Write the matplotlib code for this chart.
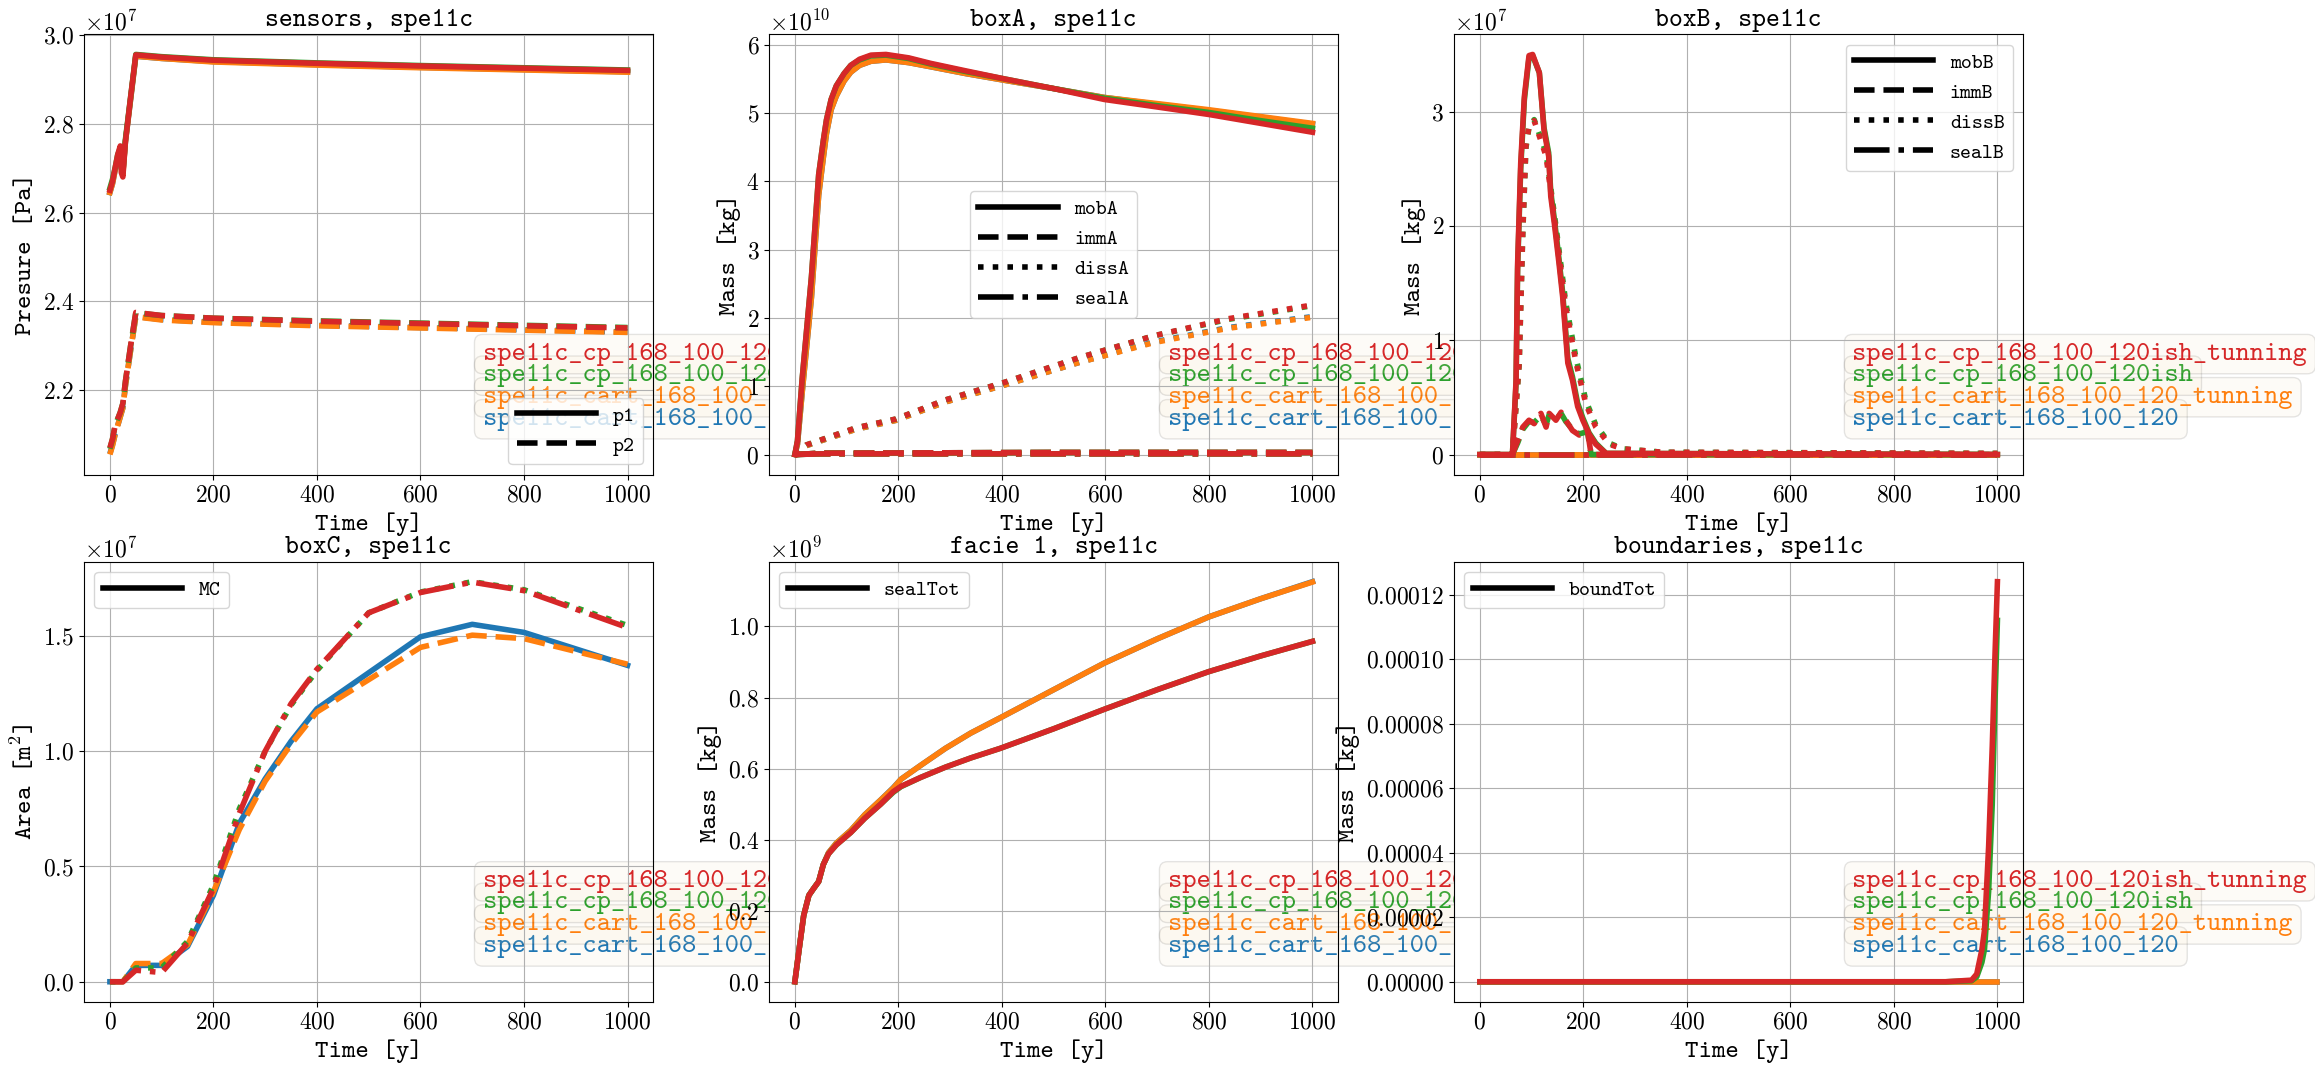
import matplotlib.pyplot as plt
from matplotlib.lines import Line2D
from matplotlib.ticker import MultipleLocator

plt.rcParams['font.family'] = 'cmr10'
plt.rcParams['mathtext.fontset'] = 'cm'
plt.rcParams['axes.formatter.use_mathtext'] = True
plt.rcParams['axes.unicode_minus'] = False

# cases and colours
cases = ['spe11c_cart_168_100_120', 'spe11c_cart_168_100_120_tunning',
         'spe11c_cp_168_100_120ish', 'spe11c_cp_168_100_120ish_tunning']
colors = ['tab:blue', 'tab:orange', 'tab:green', 'tab:red']

# sensors (x1e7 Pa)
t_p1 = [0, 5, 10, 15, 20, 22, 25, 30, 40, 50, 100, 200, 400, 600, 800, 1000]
p1_blue = [2.645, 2.665, 2.695, 2.72, 2.74, 2.71, 2.69, 2.76, 2.855, 2.952, 2.947, 2.940, 2.933, 2.927, 2.922, 2.917]
p1_orange = [2.645, 2.665, 2.695, 2.72, 2.74, 2.71, 2.685, 2.76, 2.855, 2.952, 2.947, 2.939, 2.932, 2.926, 2.921, 2.916]
p1_green = [2.655, 2.675, 2.70, 2.73, 2.745, 2.70, 2.69, 2.765, 2.86, 2.956, 2.951, 2.944, 2.937, 2.931, 2.926, 2.921]
p1_red = [2.65, 2.67, 2.70, 2.73, 2.75, 2.69, 2.68, 2.76, 2.86, 2.955, 2.950, 2.943, 2.936, 2.930, 2.925, 2.920]

t_p2 = [0, 5, 10, 20, 25, 30, 40, 50, 100, 200, 400, 600, 800, 1000]
p2_blue = [2.057, 2.077, 2.10, 2.14, 2.16, 2.21, 2.29, 2.366, 2.359, 2.353, 2.346, 2.341, 2.336, 2.331]
p2_orange = [2.055, 2.075, 2.10, 2.14, 2.16, 2.21, 2.29, 2.365, 2.358, 2.352, 2.345, 2.340, 2.335, 2.330]
p2_green = [2.068, 2.09, 2.12, 2.15, 2.17, 2.22, 2.30, 2.374, 2.368, 2.362, 2.356, 2.351, 2.346, 2.341]
p2_red = [2.07, 2.09, 2.12, 2.15, 2.17, 2.22, 2.30, 2.375, 2.368, 2.362, 2.355, 2.350, 2.345, 2.340]

# boxA (x1e10 kg)
t_mobA = [0, 5, 14, 32, 46, 55, 61, 70, 80, 95, 108, 125, 147, 176, 220, 262, 330, 406, 500, 598, 700, 800, 900, 1000]
mobA_blue = [0, 0.15, 0.9, 2.3, 3.8, 4.35, 4.7, 5.05, 5.25, 5.47, 5.6, 5.7, 5.76, 5.78, 5.74, 5.68, 5.58, 5.48, 5.36, 5.23, 5.13, 5.04, 4.94, 4.84]
mobA_orange = [0, 0.15, 0.9, 2.3, 3.8, 4.35, 4.7, 5.05, 5.25, 5.47, 5.6, 5.7, 5.76, 5.78, 5.74, 5.68, 5.58, 5.48, 5.36, 5.23, 5.14, 5.05, 4.95, 4.85]
mobA_green = [0, 0.2, 1.1, 2.6, 4.1, 4.6, 4.9, 5.2, 5.4, 5.58, 5.7, 5.78, 5.84, 5.85, 5.8, 5.72, 5.61, 5.5, 5.36, 5.22, 5.11, 5.01, 4.89, 4.78]
mobA_red = [0, 0.2, 1.1, 2.6, 4.1, 4.6, 4.9, 5.2, 5.4, 5.58, 5.7, 5.79, 5.85, 5.86, 5.81, 5.73, 5.62, 5.5, 5.36, 5.2, 5.09, 4.98, 4.85, 4.72]

t_dissA = [0, 22, 118, 195, 291, 406, 550, 694, 838, 1000]
dissA_blue = [0, 0.13, 0.37, 0.50, 0.77, 1.02, 1.35, 1.65, 1.86, 2.02]
dissA_orange = [0, 0.13, 0.37, 0.50, 0.77, 1.02, 1.35, 1.64, 1.85, 2.01]
dissA_green = [0, 0.14, 0.39, 0.52, 0.80, 1.06, 1.42, 1.74, 1.98, 2.18]
dissA_red = [0, 0.14, 0.39, 0.52, 0.80, 1.06, 1.42, 1.74, 1.99, 2.19]

t_smallA = [0, 50, 500, 1000]
immA = [0, 0.02, 0.03, 0.03]
sealA = [0, 0.01, 0.01, 0.01]

# boxB (x1e7 kg)
t_mobB = [0, 63, 70, 73, 79, 86, 95, 102, 115, 124, 133, 137, 144, 153, 160, 170, 179, 189, 199, 211, 224, 244, 1000]
mobB_red = [0, 0, 0.65, 1.67, 2.55, 3.13, 3.49, 3.50, 3.34, 2.84, 2.61, 2.26, 2.02, 1.67, 1.38, 0.80, 0.65, 0.42, 0.30, 0.18, 0.09, 0.01, 0]
mobB_green = [0, 0, 0.62, 1.62, 2.50, 3.10, 3.47, 3.49, 3.34, 2.86, 2.64, 2.30, 2.06, 1.71, 1.42, 0.84, 0.68, 0.45, 0.32, 0.19, 0.10, 0.01, 0]

t_dissB = [0, 63, 76, 83, 89, 95, 105, 128, 147, 166, 186, 205, 224, 250, 276, 353, 1000]
dissB_red = [0, 0, 0.80, 1.96, 2.70, 2.87, 2.92, 2.61, 1.96, 1.29, 0.80, 0.44, 0.24, 0.09, 0.05, 0.02, 0.01]
dissB_green = [0, 0, 0.78, 1.93, 2.68, 2.86, 2.93, 2.64, 2.00, 1.33, 0.84, 0.47, 0.26, 0.10, 0.05, 0.02, 0.01]

t_immB = [0, 63, 73, 83, 95, 105, 118, 128, 134, 147, 157, 166, 179, 192, 208, 215, 1000]
immB_red = [0, 0, 0.12, 0.24, 0.30, 0.27, 0.36, 0.24, 0.36, 0.30, 0.37, 0.30, 0.21, 0.17, 0.21, 0, 0]
immB_green = [0, 0, 0.10, 0.22, 0.29, 0.28, 0.34, 0.26, 0.35, 0.31, 0.36, 0.29, 0.22, 0.18, 0.20, 0, 0]

t_flat = [0, 1000]
flat_zero = [0, 0]

# boxC (x1e7 m2)
t_C = [0, 25, 50, 100, 150, 200, 250, 300, 350, 400, 500, 600, 700, 800, 1000]
mc_blue = [0, 0, 0.071, 0.071, 0.153, 0.375, 0.687, 0.88, 1.043, 1.184, 1.34, 1.496, 1.55, 1.515, 1.372]
mc_orange = [0, 0, 0.079, 0.079, 0.16, 0.39, 0.66, 0.87, 1.03, 1.17, 1.31, 1.45, 1.503, 1.488, 1.377]
mc_green = [0, 0, 0.06, 0.06, 0.175, 0.42, 0.75, 1.0, 1.2, 1.35, 1.6, 1.69, 1.735, 1.70, 1.545]
mc_red = [0, 0, 0.05, 0.04, 0.168, 0.405, 0.73, 1.0, 1.206, 1.355, 1.6, 1.688, 1.733, 1.696, 1.536]

# facie 1 (x1e9 kg)
t_F = [0, 8, 17, 27, 36, 46, 55, 65, 80, 108, 135, 166, 190, 205, 243, 291, 340, 397, 500, 598, 700, 800, 900, 1000]
seal_blue = [0, 0.089, 0.186, 0.243, 0.262, 0.282, 0.33, 0.363, 0.39, 0.426, 0.47, 0.512, 0.546, 0.57, 0.609, 0.657, 0.70, 0.743, 0.822, 0.897, 0.965, 1.027, 1.078, 1.126]
seal_orange = [0, 0.089, 0.186, 0.243, 0.262, 0.282, 0.33, 0.363, 0.39, 0.426, 0.47, 0.512, 0.545, 0.57, 0.609, 0.657, 0.70, 0.743, 0.822, 0.897, 0.965, 1.027, 1.078, 1.125]
seal_green = [0, 0.089, 0.186, 0.243, 0.262, 0.282, 0.33, 0.36, 0.385, 0.42, 0.46, 0.50, 0.533, 0.549, 0.575, 0.604, 0.63, 0.657, 0.712, 0.767, 0.822, 0.873, 0.917, 0.958]
seal_red = [0, 0.089, 0.186, 0.243, 0.262, 0.282, 0.33, 0.36, 0.385, 0.42, 0.46, 0.50, 0.535, 0.55, 0.575, 0.604, 0.63, 0.657, 0.712, 0.767, 0.822, 0.873, 0.917, 0.958]

# boundaries (kg)
t_bound = [0, 900, 950, 960, 970, 975, 983, 990, 995, 1000]
bound_red = [0, 0, 5e-7, 2.4e-6, 1e-5, 1.6e-5, 4.2e-5, 7.3e-5, 1.0e-4, 1.24e-4]
bound_green = [0, 0, 3e-7, 1.5e-6, 6e-6, 1.0e-5, 2.8e-5, 5.5e-5, 8.5e-5, 1.12e-4]
bound_zero = [0, 0, 0, 0, 0, 0, 0, 0, 0, 0]

p1_all = [p1_blue, p1_orange, p1_green, p1_red]
p2_all = [p2_blue, p2_orange, p2_green, p2_red]
mobA_all = [mobA_blue, mobA_orange, mobA_green, mobA_red]
dissA_all = [dissA_blue, dissA_orange, dissA_green, dissA_red]
mc_all = [mc_blue, mc_orange, mc_green, mc_red]
mc_styles = ['-', '--', ':', '-.']
seal_all = [seal_blue, seal_orange, seal_green, seal_red]
bound_all = [bound_zero, bound_zero, bound_green, bound_red]

LW = 4
TT = 'cmtt10'

fig, axs = plt.subplots(2, 3, figsize=(23.15, 10.76), dpi=100)
fig.subplots_adjust(left=0.0363, right=0.874, top=0.968, bottom=0.069, wspace=0.203, hspace=0.198)


def style_axes(ax, title, ylabel):
    ax.set_title(title, family=TT, fontsize=19)
    ax.set_xlabel('Time [y]', family=TT, fontsize=18.5)
    ax.set_ylabel(ylabel, family=TT, fontsize=18.5)
    ax.tick_params(labelsize=17)
    ax.yaxis.get_offset_text().set_fontsize(17)
    ax.grid(True)
    ax.set_xticks([0, 200, 400, 600, 800, 1000])
    # case names, stacked boxes
    ys = [0.113, 0.163, 0.212, 0.261]
    for name, c, y in zip(cases, colors, ys):
        ax.text(0.70, y, name, transform=ax.transAxes, color=c, family=TT, fontsize=19.5,
                va='baseline', ha='left', zorder=1, clip_on=False,
                bbox=dict(boxstyle='round', facecolor='wheat', alpha=0.1))


def style_legend(ax, labels, styles, loc):
    handles = [Line2D([], [], color='k', lw=LW, ls=s) for s in styles]
    ax.legend(handles, labels, loc=loc, prop={'family': TT, 'size': 15}, handlelength=3.8)


# sensors
ax = axs[0, 0]
for i in range(4):
    ax.plot(t_p1, [v * 1e7 for v in p1_all[i]], color=colors[i], lw=LW, ls='-')
    ax.plot(t_p2, [v * 1e7 for v in p2_all[i]], color=colors[i], lw=LW, ls='--')
style_axes(ax, 'sensors, spe11c', 'Presure [Pa]')
style_legend(ax, ['p1', 'p2'], ['-', '--'], 'lower right')

# boxA
ax = axs[0, 1]
for i in range(4):
    ax.plot(t_mobA, [v * 1e10 for v in mobA_all[i]], color=colors[i], lw=LW, ls='-')
    ax.plot(t_smallA, [v * 1e10 for v in immA], color=colors[i], lw=LW, ls='--')
    ax.plot(t_dissA, [v * 1e10 for v in dissA_all[i]], color=colors[i], lw=LW, ls=':')
    ax.plot(t_smallA, [v * 1e10 for v in sealA], color=colors[i], lw=LW, ls='-.')
style_axes(ax, 'boxA, spe11c', 'Mass [kg]')
style_legend(ax, ['mobA', 'immA', 'dissA', 'sealA'], ['-', '--', ':', '-.'], 'center')

# boxB
ax = axs[0, 2]
for i in range(2):
    for ls in ['-', '--', ':', '-.']:
        ax.plot(t_flat, flat_zero, color=colors[i], lw=LW, ls=ls)
for c, mob, imm, diss in [(colors[2], mobB_green, immB_green, dissB_green),
                          (colors[3], mobB_red, immB_red, dissB_red)]:
    ax.plot(t_mobB, [v * 1e7 for v in mob], color=c, lw=LW, ls='-')
    ax.plot(t_immB, [v * 1e7 for v in imm], color=c, lw=LW, ls='--')
    ax.plot(t_dissB, [v * 1e7 for v in diss], color=c, lw=LW, ls=':')
    ax.plot(t_flat, flat_zero, color=c, lw=LW, ls='-.')
style_axes(ax, 'boxB, spe11c', 'Mass [kg]')
ax.yaxis.set_major_locator(MultipleLocator(1e7))
style_legend(ax, ['mobB', 'immB', 'dissB', 'sealB'], ['-', '--', ':', '-.'], 'upper right')

# boxC
ax = axs[1, 0]
for i in range(4):
    ax.plot(t_C, [v * 1e7 for v in mc_all[i]], color=colors[i], lw=LW, ls=mc_styles[i])
style_axes(ax, 'boxC, spe11c', 'Area [m$^2$]')
ax.yaxis.set_major_locator(MultipleLocator(0.5e7))
style_legend(ax, ['MC'], ['-'], 'upper left')

# facie 1
ax = axs[1, 1]
for i in range(4):
    ax.plot(t_F, [v * 1e9 for v in seal_all[i]], color=colors[i], lw=LW)
style_axes(ax, 'facie 1, spe11c', 'Mass [kg]')
style_legend(ax, ['sealTot'], ['-'], 'upper left')

# boundaries
ax = axs[1, 2]
for i in range(4):
    ax.plot(t_bound, bound_all[i], color=colors[i], lw=LW)
style_axes(ax, 'boundaries, spe11c', 'Mass [kg]')
style_legend(ax, ['boundTot'], ['-'], 'upper left')

plt.savefig('out.png')
